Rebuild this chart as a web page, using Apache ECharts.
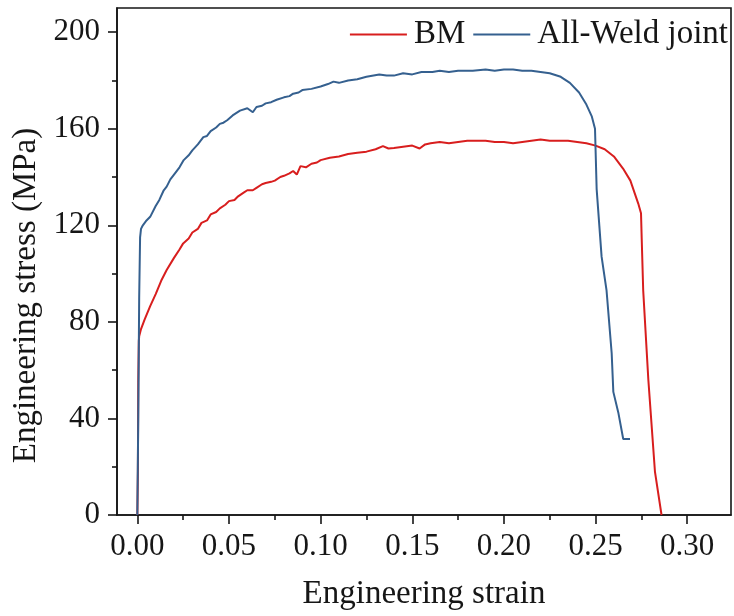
<!DOCTYPE html>
<html>
<head>
<meta charset="utf-8">
<script src="https://cdn.jsdelivr.net/npm/echarts@6/dist/echarts.min.js"></script>
<style>html,body{margin:0;padding:0;background:#fff}#c{width:734px;height:616px}</style>
</head>
<body>
<div id="c"></div>
<script>
// ---- data ----
const bmStrain = [0, 0.0003, 0.0005, 0.0008, 0.001, 0.002, 0.004, 0.007, 0.010, 0.013, 0.016, 0.020, 0.023, 0.025, 0.028, 0.030, 0.033, 0.035, 0.038, 0.040, 0.043, 0.045, 0.048, 0.050, 0.053, 0.055, 0.058, 0.060, 0.063, 0.065, 0.068, 0.070, 0.073, 0.075, 0.078, 0.080, 0.083, 0.085, 0.087, 0.089, 0.092, 0.095, 0.098, 0.100, 0.105, 0.110, 0.115, 0.120, 0.125, 0.130, 0.134, 0.137, 0.140, 0.145, 0.150, 0.154, 0.157, 0.160, 0.165, 0.170, 0.175, 0.180, 0.185, 0.190, 0.195, 0.200, 0.205, 0.210, 0.215, 0.220, 0.225, 0.230, 0.235, 0.240, 0.245, 0.250, 0.255, 0.260, 0.265, 0.269, 0.2733, 0.2748, 0.2752, 0.276, 0.2788, 0.2824, 0.286];
const bmStress = [0, 18, 55, 72, 74, 77, 81, 86.5, 91.5, 97, 101.5, 106.5, 110, 112.5, 114.5, 117, 118.5, 121, 122, 124.5, 125.5, 127, 128.5, 130, 130.5, 132, 133.5, 134.5, 134.5, 135.5, 137, 137.5, 138, 138.5, 140, 140.5, 141.5, 142.5, 141, 144.5, 144, 145.5, 146, 147, 148, 148.5, 149.5, 150, 150.5, 151.5, 152.8, 151.8, 152, 152.5, 153, 151.8, 153.5, 154, 154.5, 154, 154.5, 155, 155, 155, 154.5, 154.5, 154, 154.5, 155, 155.5, 155, 155, 155, 154.5, 154, 153, 151.5, 148.5, 143.5, 138.5, 129, 125, 114, 93, 56, 18, 0];

const weldStrain = [0, 0.0005, 0.001, 0.0015, 0.002, 0.003, 0.005, 0.007, 0.010, 0.012, 0.0144, 0.016, 0.018, 0.020, 0.023, 0.0253, 0.028, 0.030, 0.033, 0.036, 0.038, 0.040, 0.043, 0.045, 0.047, 0.049, 0.052, 0.056, 0.060, 0.063, 0.065, 0.068, 0.070, 0.073, 0.076, 0.080, 0.083, 0.085, 0.088, 0.090, 0.095, 0.100, 0.104, 0.107, 0.110, 0.115, 0.120, 0.125, 0.132, 0.136, 0.140, 0.145, 0.150, 0.155, 0.161, 0.165, 0.170, 0.175, 0.183, 0.190, 0.195, 0.200, 0.205, 0.210, 0.215, 0.220, 0.225, 0.231, 0.236, 0.241, 0.245, 0.248, 0.2497, 0.2506, 0.2533, 0.256, 0.2588, 0.2597, 0.2624, 0.2651, 0.2688];
const weldStress = [0, 40, 90, 115, 118.5, 120, 122, 123.5, 128, 130.5, 134.5, 136, 139, 141, 144, 147, 149, 151, 153.5, 156.5, 157, 159, 160.5, 162, 162.5, 163.5, 165.5, 167.5, 168.5, 166.8, 169, 169.5, 170.5, 171, 172, 173, 173.5, 174.5, 175, 176, 176.5, 177.5, 178.5, 179.5, 179, 180, 180.5, 181.5, 182.5, 182, 182, 183, 182.5, 183.5, 183.5, 184, 183.5, 184, 184, 184.5, 184, 184.5, 184.5, 184, 184, 183.5, 183, 181.5, 179, 175, 170, 165, 160, 135, 107, 93, 67, 51, 42.5, 31.5, 31.5];

const xMajorTicks = [0, 0.05, 0.10, 0.15, 0.20, 0.25, 0.30];
const xMinorTicks = [0.025, 0.075, 0.125, 0.175, 0.225, 0.275];
const yMajorTicks = [0, 40, 80, 120, 160, 200];
const yMinorTicks = [20, 60, 100, 140, 180];
const seriesNames = ['BM', 'All-Weld joint'];

const zip = (xs, ys) => xs.map((x, i) => [x, ys[i]]);

const FONT = 'Liberation Serif';
const INK = '#161616';
const xMin = -0.0111, xMax = 0.3239, yMin = 0, yMax = 210;

const chart = echarts.init(document.getElementById('c'), null, {renderer: 'canvas'});
chart.setOption({
  animation: false,
  backgroundColor: '#fff',
  grid: {left: 117, right: 3, top: 8, bottom: 100, show: true, borderColor: INK, borderWidth: 1.6, containLabel: false},
  legend: {
    data: seriesNames, right: 6, top: 18, padding: 0, itemGap: 8, itemWidth: 57, itemHeight: 2, icon: 'rect',
    textStyle: {fontFamily: FONT, fontSize: 33, color: INK, padding: [0, 0, 0, 2]}
  },
  xAxis: [{
    type: 'value', min: xMin, max: xMax, position: 'bottom',
    name: 'Engineering strain', nameLocation: 'middle', nameGap: 63,
    nameTextStyle: {fontFamily: FONT, fontSize: 33, color: INK},
    axisLine: {show: true, onZero: false, lineStyle: {color: INK, width: 1.6}},
    axisTick: {show: true, length: 9, customValues: xMajorTicks, lineStyle: {color: INK, width: 1.6}},
    axisLabel: {customValues: xMajorTicks, formatter: v => v.toFixed(2), fontFamily: FONT, fontSize: 31, color: INK, margin: 16},
    splitLine: {show: false}
  }, {
    type: 'value', min: xMin, max: xMax, position: 'bottom', gridIndex: 0,
    axisLine: {show: false, onZero: false},
    axisTick: {show: true, length: 5, customValues: xMinorTicks, lineStyle: {color: INK, width: 1.6}},
    axisLabel: {show: false}, splitLine: {show: false}
  }],
  yAxis: [{
    type: 'value', min: yMin, max: yMax, position: 'left',
    name: 'Engineering stress (MPa)', nameLocation: 'middle', nameGap: 70,
    nameTextStyle: {fontFamily: FONT, fontSize: 33, color: INK, padding: [0, 68, 0, 0]},
    axisLine: {show: true, onZero: false, lineStyle: {color: INK, width: 1.6}},
    axisTick: {show: true, length: 9, customValues: yMajorTicks, lineStyle: {color: INK, width: 1.6}},
    axisLabel: {customValues: yMajorTicks, fontFamily: FONT, fontSize: 31, color: INK, margin: 17},
    splitLine: {show: false}
  }, {
    type: 'value', min: yMin, max: yMax, position: 'left', gridIndex: 0,
    axisLine: {show: false, onZero: false},
    axisTick: {show: true, length: 5, customValues: yMinorTicks, lineStyle: {color: INK, width: 1.6}},
    axisLabel: {show: false}, splitLine: {show: false}
  }],
  series: [{
    name: seriesNames[0], type: 'line', symbol: 'none', xAxisIndex: 0, yAxisIndex: 0,
    data: zip(bmStrain, bmStress),
    lineStyle: {color: '#d81e1e', width: 2}, itemStyle: {color: '#d81e1e'}
  }, {
    name: seriesNames[1], type: 'line', symbol: 'none', xAxisIndex: 0, yAxisIndex: 0,
    data: zip(weldStrain, weldStress),
    lineStyle: {color: '#35608f', width: 2}, itemStyle: {color: '#35608f'}
  }]
});
</script>
</body>
</html>
